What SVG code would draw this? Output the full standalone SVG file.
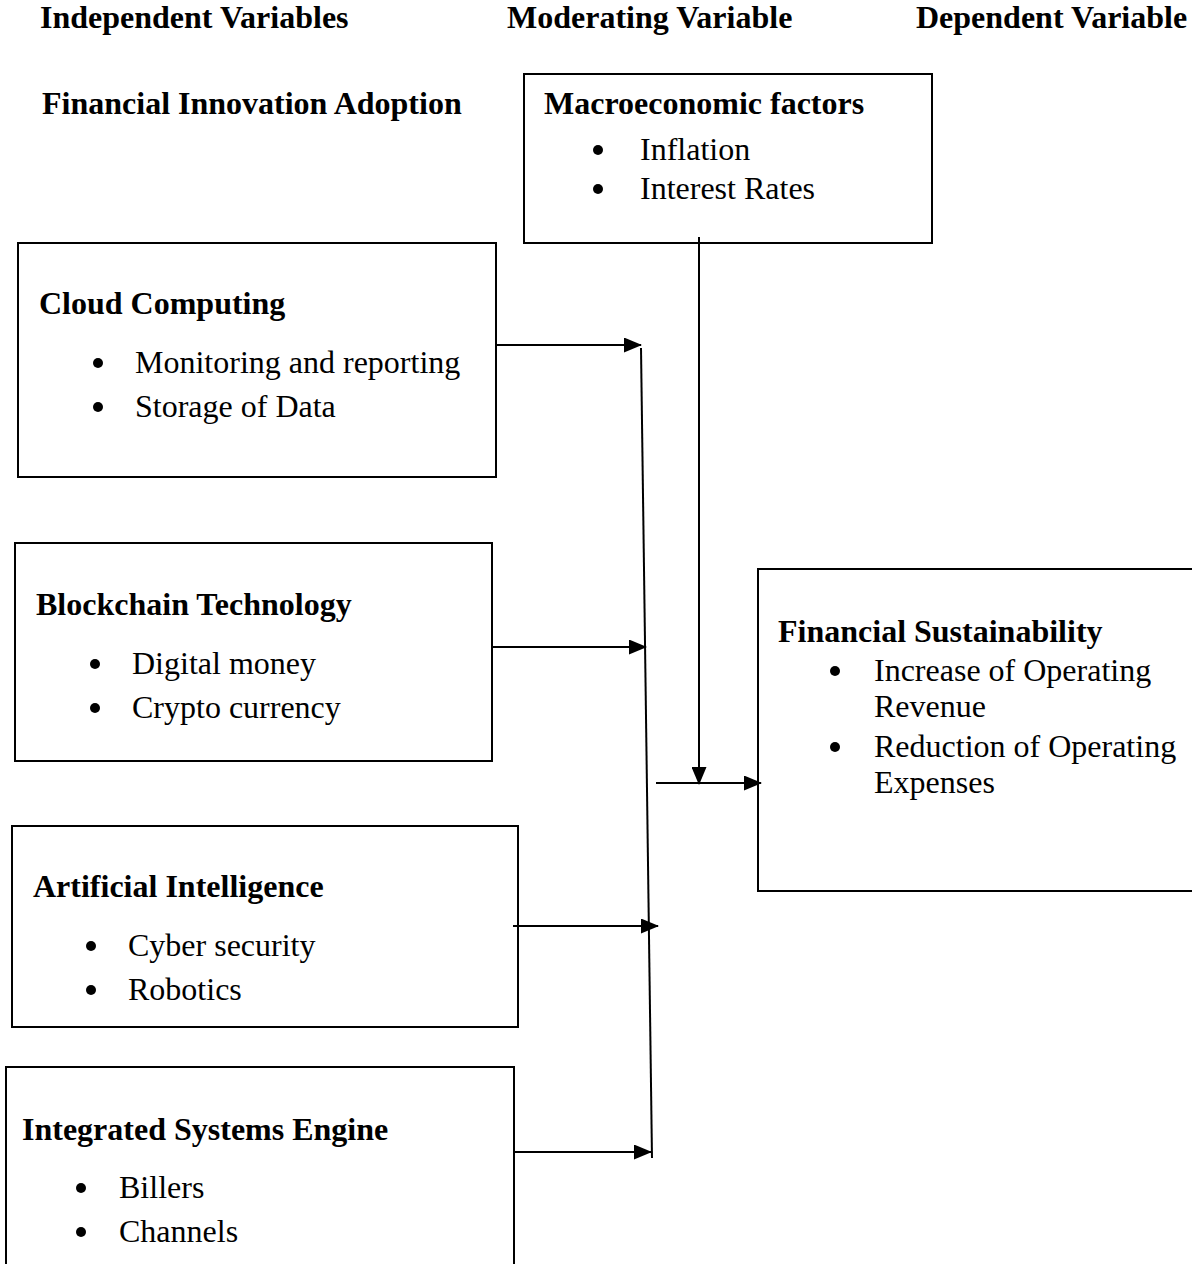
<svg xmlns="http://www.w3.org/2000/svg" width="1192" height="1264" viewBox="0 0 1192 1264">
  <style>
    text { font-family: "Liberation Serif", "Times New Roman", serif; font-size: 32px; fill: #000; }
    .b { font-weight: bold; }
    .box { fill: #fff; stroke: #000; stroke-width: 2; }
    .dot { fill: #000; }
    .ln { stroke: #000; stroke-width: 2; fill: none; }
    .arr { stroke: #000; stroke-width: 2; fill: none; marker-end: url(#ah); }
  </style>
  <defs>
    <marker id="ah" viewBox="0 0 18 15" refX="17" refY="7.5" markerWidth="18" markerHeight="15" markerUnits="userSpaceOnUse" orient="auto">
      <path d="M0,0 L18,7.5 L0,15 Z" fill="#000"/>
    </marker>
  </defs>
  <rect width="1192" height="1264" fill="#fff"/>

  <g id="headers">
    <text class="b" x="40" y="28">Independent Variables</text>
    <text class="b" x="507" y="28">Moderating Variable</text>
    <text class="b" x="916" y="28">Dependent Variable</text>
    <text class="b" x="42" y="114">Financial Innovation Adoption</text>
  </g>

  <g id="macro">
    <rect class="box" x="524" y="74" width="408" height="169"/>
    <text class="b" x="544" y="114">Macroeconomic factors</text>
    <circle class="dot" cx="598" cy="150" r="5"/>
    <text x="640" y="160">Inflation</text>
    <circle class="dot" cx="598" cy="189" r="5"/>
    <text x="640" y="199">Interest Rates</text>
  </g>

  <g id="cloud">
    <rect class="box" x="18" y="243" width="478" height="234"/>
    <text class="b" x="39" y="314">Cloud Computing</text>
    <circle class="dot" cx="98" cy="363" r="5"/>
    <text x="135" y="373">Monitoring and reporting</text>
    <circle class="dot" cx="98" cy="407" r="5"/>
    <text x="135" y="417">Storage of Data</text>
  </g>

  <g id="blockchain">
    <rect class="box" x="15" y="543" width="477" height="218"/>
    <text class="b" x="36" y="615">Blockchain Technology</text>
    <circle class="dot" cx="95" cy="664" r="5"/>
    <text x="132" y="674">Digital money</text>
    <circle class="dot" cx="95" cy="708" r="5"/>
    <text x="132" y="718">Crypto currency</text>
  </g>

  <g id="ai">
    <rect class="box" x="12" y="826" width="506" height="201"/>
    <text class="b" x="33" y="897">Artificial Intelligence</text>
    <circle class="dot" cx="91" cy="946" r="5"/>
    <text x="128" y="956">Cyber security</text>
    <circle class="dot" cx="91" cy="990" r="5"/>
    <text x="128" y="1000">Robotics</text>
  </g>

  <g id="ise">
    <rect class="box" x="6" y="1067" width="508" height="220"/>
    <text class="b" x="22" y="1140">Integrated Systems Engine</text>
    <circle class="dot" cx="81" cy="1188" r="5"/>
    <text x="119" y="1198">Billers</text>
    <circle class="dot" cx="81" cy="1232" r="5"/>
    <text x="119" y="1242">Channels</text>
  </g>

  <g id="sustainability">
    <rect class="box" x="758" y="569" width="460" height="322"/>
    <text class="b" x="778" y="642">Financial Sustainability</text>
    <circle class="dot" cx="835" cy="671" r="5"/>
    <text x="874" y="681">Increase of Operating</text>
    <text x="874" y="717">Revenue</text>
    <circle class="dot" cx="835" cy="747" r="5"/>
    <text x="874" y="757">Reduction of Operating</text>
    <text x="874" y="793">Expenses</text>
  </g>

  <g id="connectors">
    <line class="arr" x1="497" y1="345" x2="641" y2="345"/>
    <line class="arr" x1="493" y1="647" x2="646" y2="647"/>
    <line class="arr" x1="513" y1="926" x2="658" y2="926"/>
    <line class="arr" x1="514" y1="1152" x2="651" y2="1152"/>
    <line class="ln" x1="641" y1="348" x2="652" y2="1158"/>
    <line class="arr" x1="699" y1="237" x2="699" y2="784"/>
    <line class="arr" x1="656" y1="783" x2="761" y2="783"/>
  </g>
</svg>
